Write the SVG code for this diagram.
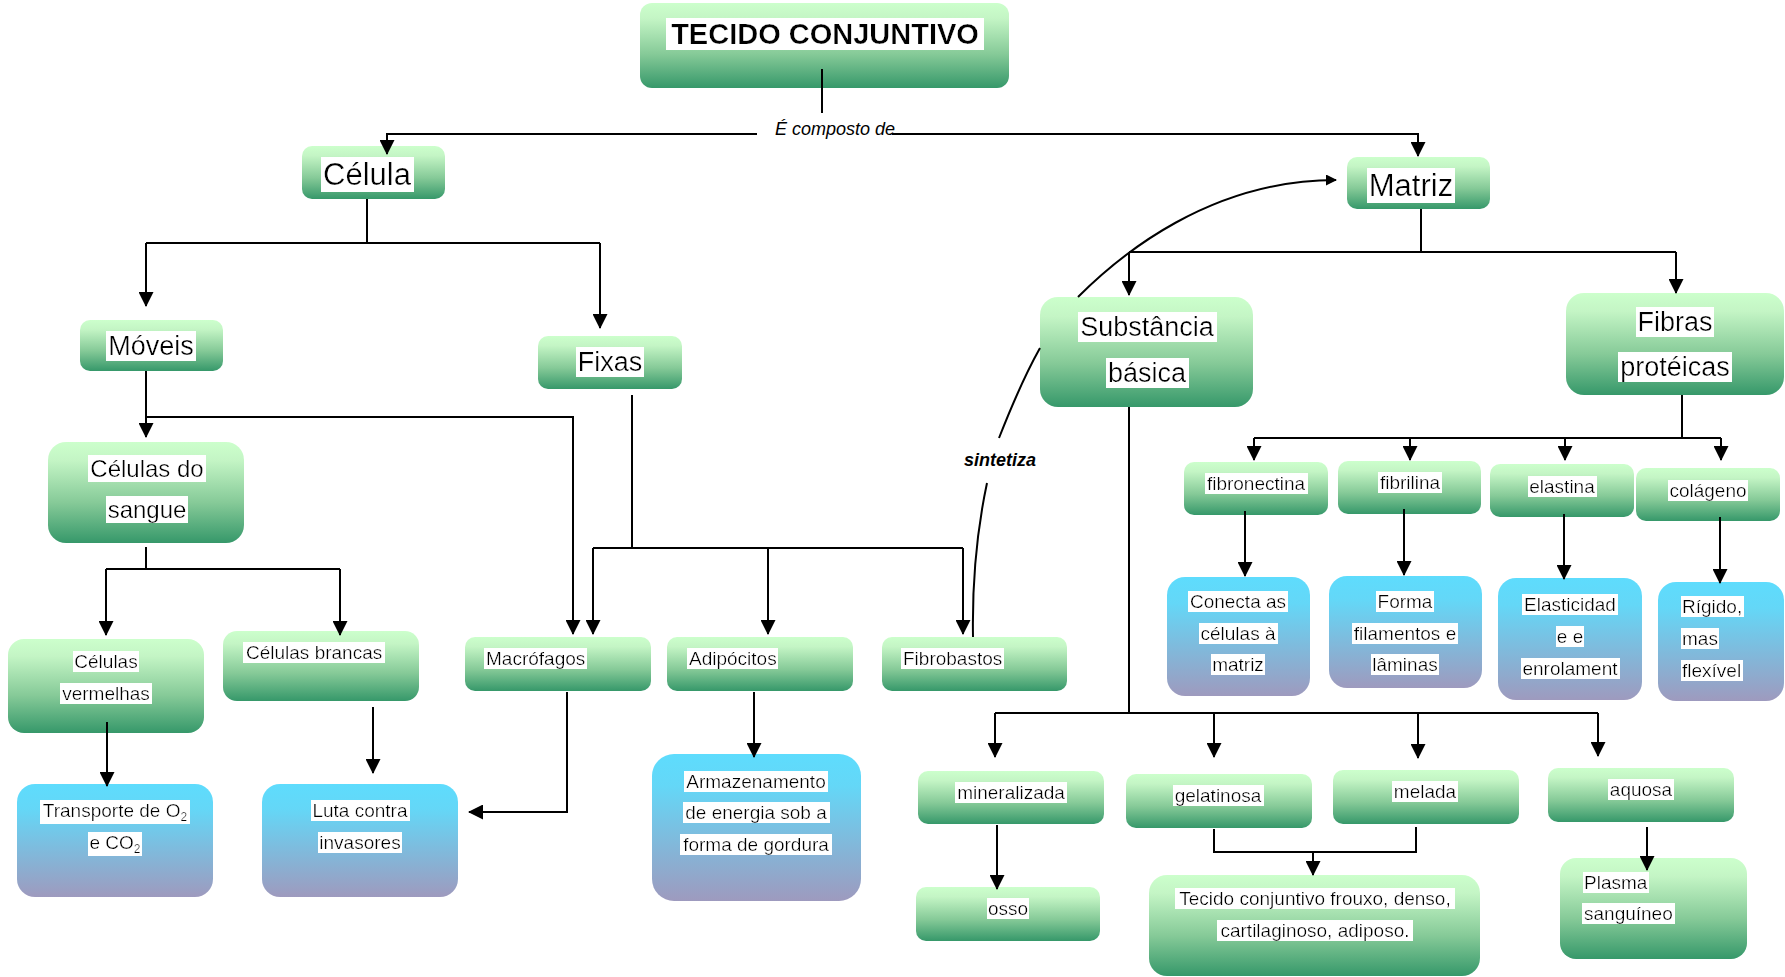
<svg xmlns="http://www.w3.org/2000/svg" width="1785" height="977" viewBox="0 0 1785 977">
  <defs>
    <linearGradient id="gGreen" x1="0" y1="0" x2="0" y2="1">
      <stop offset="0" stop-color="#CCFFCC"/>
      <stop offset="0.18" stop-color="#C4F5C5"/>
      <stop offset="0.6" stop-color="#86CA98"/>
      <stop offset="1" stop-color="#36986A"/>
    </linearGradient>
    <linearGradient id="gBlue" x1="0" y1="0" x2="0" y2="1">
      <stop offset="0" stop-color="#5EDCFD"/>
      <stop offset="0.22" stop-color="#64D7F7"/>
      <stop offset="1" stop-color="#9E9ABE"/>
    </linearGradient>
    <!-- white highlight behind each line of text -->
    <filter id="hl" x="-0.015" y="0" width="1.03" height="1">
      <feFlood flood-color="#ffffff" result="bg"/>
      <feMerge>
        <feMergeNode in="bg"/>
        <feMergeNode in="SourceGraphic"/>
      </feMerge>
    </filter>
    <marker id="ah" viewBox="0 0 15 15" refX="14" refY="7.5" markerWidth="15" markerHeight="15" markerUnits="userSpaceOnUse" orient="auto">
      <path d="M0,0 L15,7.5 L0,15 z" fill="#000"/>
    </marker>
    <marker id="ahs" viewBox="0 0 11 11" refX="10" refY="5.5" markerWidth="11" markerHeight="11" markerUnits="userSpaceOnUse" orient="auto">
      <path d="M0,0 L11,5.5 L0,11 z" fill="#000"/>
    </marker>
  </defs>
  <style>
    .g { fill: url(#gGreen); }
    .b { fill: url(#gBlue); }
    text { font-family: "Liberation Sans", Arial, sans-serif; fill: #000; filter: url(#hl); }
    .m { text-anchor: middle; }
    .s19 { font-size: 19px; }
    .s24 { font-size: 24px; }
    .s27 { font-size: 27px; }
    .s31 { font-size: 31px; }
    .title { font-size: 29px; font-weight: bold; text-anchor: middle; }
    .c path { fill: none; stroke: #000; stroke-width: 2; }
    .a { marker-end: url(#ah); }
    .lbl { filter: none; font-size: 18px; font-style: italic; text-anchor: middle; }
  </style>

  <rect width="1785" height="977" fill="#ffffff"/>

  <!-- nodes -->
  <g id="n-tecido"><rect class="g" x="640" y="3" width="369" height="85" rx="12"/><text class="title" x="825" y="44">TECIDO CONJUNTIVO</text></g>
  <g id="n-celula"><rect class="g" x="302" y="146" width="143" height="53" rx="10"/><text class="m s31" x="367" y="185">Célula</text></g>
  <g id="n-matriz"><rect class="g" x="1347" y="157" width="143" height="52" rx="10"/><text class="m s31" x="1411" y="196">Matriz</text></g>
  <g id="n-moveis"><rect class="g" x="80" y="320" width="143" height="51" rx="10"/><text class="m s27" x="151" y="355">Móveis</text></g>
  <g id="n-fixas"><rect class="g" x="538" y="336" width="144" height="53" rx="10"/><text class="m s27" x="610" y="371">Fixas</text></g>
  <g id="n-sangue"><rect class="g" x="48" y="442" width="196" height="101" rx="18"/><text class="m s24" x="147" y="477">Células do</text><text class="m s24" x="147" y="518">sangue</text></g>
  <g id="n-substancia"><rect class="g" x="1040" y="297" width="213" height="110" rx="18"/><text class="m s27" x="1147" y="336">Substância</text><text class="m s27" x="1147" y="382">básica</text></g>
  <g id="n-fibras"><rect class="g" x="1566" y="293" width="218" height="102" rx="18"/><text class="m s27" x="1675" y="331">Fibras</text><text class="m s27" x="1675" y="376">protéicas</text></g>
  <g id="n-vermelhas"><rect class="g" x="8" y="639" width="196" height="94" rx="16"/><text class="m s19" x="106" y="668">Células</text><text class="m s19" x="106" y="700">vermelhas</text></g>
  <g id="n-brancas"><rect class="g" x="223" y="631" width="196" height="70" rx="14"/><text class="s19" x="246" y="659">Células brancas</text></g>
  <g id="n-transporte"><rect class="b" x="17" y="784" width="196" height="113" rx="18"/><text class="m s19" x="115" y="817">Transporte de O<tspan font-size="12" dy="4">2</tspan></text><text class="m s19" x="115" y="849">e CO<tspan font-size="12" dy="4">2</tspan></text></g>
  <g id="n-luta"><rect class="b" x="262" y="784" width="196" height="113" rx="18"/><text class="m s19" x="360" y="817">Luta contra</text><text class="m s19" x="360" y="849">invasores</text></g>
  <g id="n-macrofagos"><rect class="g" x="465" y="637" width="186" height="54" rx="10"/><text class="s19" x="486" y="665">Macrófagos</text></g>
  <g id="n-adipocitos"><rect class="g" x="667" y="637" width="186" height="54" rx="10"/><text class="s19" x="689" y="665">Adipócitos</text></g>
  <g id="n-fibrobastos"><rect class="g" x="882" y="637" width="185" height="54" rx="10"/><text class="s19" x="903" y="665">Fibrobastos</text></g>
  <g id="n-armazenamento"><rect class="b" x="652" y="754" width="209" height="147" rx="22"/><text class="m s19" x="756" y="788">Armazenamento</text><text class="m s19" x="756" y="819">de energia sob a</text><text class="m s19" x="756" y="851">forma de gordura</text></g>
  <g id="n-fibronectina"><rect class="g" x="1184" y="462" width="144" height="53" rx="10"/><text class="m s19" x="1256" y="490">fibronectina</text></g>
  <g id="n-fibrilina"><rect class="g" x="1338" y="461" width="143" height="53" rx="10"/><text class="m s19" x="1410" y="489">fibrilina</text></g>
  <g id="n-elastina"><rect class="g" x="1490" y="464" width="144" height="53" rx="10"/><text class="m s19" x="1562" y="493">elastina</text></g>
  <g id="n-colageno"><rect class="g" x="1636" y="468" width="144" height="53" rx="10"/><text class="m s19" x="1708" y="497">colágeno</text></g>
  <g id="n-conecta"><rect class="b" x="1167" y="577" width="143" height="119" rx="18"/><text class="m s19" x="1238" y="608">Conecta as</text><text class="m s19" x="1238" y="640">células à</text><text class="m s19" x="1238" y="671">matriz</text></g>
  <g id="n-forma"><rect class="b" x="1329" y="576" width="153" height="112" rx="18"/><text class="m s19" x="1405" y="608">Forma</text><text class="m s19" x="1405" y="640">filamentos e</text><text class="m s19" x="1405" y="671">lâminas</text></g>
  <g id="n-elasticidad"><rect class="b" x="1498" y="578" width="144" height="122" rx="18"/><text class="m s19" x="1570" y="611">Elasticidad</text><text class="m s19" x="1570" y="643">e e</text><text class="m s19" x="1570" y="675">enrolament</text></g>
  <g id="n-rigido"><rect class="b" x="1658" y="582" width="126" height="119" rx="18"/><text class="s19" x="1682" y="613">Rígido,</text><text class="s19" x="1682" y="645">mas</text><text class="s19" x="1682" y="677">flexível</text></g>
  <g id="n-mineralizada"><rect class="g" x="918" y="771" width="186" height="53" rx="10"/><text class="m s19" x="1011" y="799">mineralizada</text></g>
  <g id="n-gelatinosa"><rect class="g" x="1126" y="774" width="186" height="54" rx="10"/><text class="m s19" x="1218" y="802">gelatinosa</text></g>
  <g id="n-melada"><rect class="g" x="1333" y="770" width="186" height="54" rx="10"/><text class="m s19" x="1425" y="798">melada</text></g>
  <g id="n-aquosa"><rect class="g" x="1548" y="768" width="186" height="54" rx="10"/><text class="m s19" x="1641" y="796">aquosa</text></g>
  <g id="n-osso"><rect class="g" x="916" y="887" width="184" height="54" rx="10"/><text class="m s19" x="1008" y="915">osso</text></g>
  <g id="n-frouxo"><rect class="g" x="1149" y="875" width="331" height="101" rx="18"/><text class="m s19" x="1315" y="905">Tecido conjuntivo frouxo, denso,</text><text class="m s19" x="1315" y="937">cartilaginoso, adiposo.</text></g>
  <g id="n-plasma"><rect class="g" x="1560" y="858" width="187" height="101" rx="16"/><text class="s19" x="1584" y="889">Plasma</text><text class="s19" x="1584" y="920">sanguíneo</text></g>

  <!-- connectors -->
  <g id="connectors" class="c">
    <path d="M822 69 V113"/>
    <path class="a" d="M757 134 H387 V154"/>
    <path class="a" d="M892 134 H1418 V156"/>
    <text class="lbl" x="835" y="135">É composto de</text>

    <path d="M367 199 V243 M146 243 H600"/>
    <path class="a" d="M146 243 V306"/>
    <path class="a" d="M600 243 V328"/>

    <path class="a" d="M146 371 V437"/>
    <path class="a" d="M146 417 H573 V634"/>

    <path d="M632 395 V548 M593 548 H963"/>
    <path class="a" d="M593 548 V634"/>
    <path class="a" d="M768 548 V634"/>
    <path class="a" d="M963 548 V634"/>

    <path d="M146 547 V569 M106 569 H340"/>
    <path class="a" d="M106 569 V635"/>
    <path class="a" d="M340 569 V635"/>
    <path class="a" d="M107 722 V786"/>
    <path class="a" d="M373 707 V773"/>
    <path class="a" d="M567 692 V812 H469"/>
    <path class="a" d="M754 692 V757"/>

    <path d="M1421 209 V252 M1129 252 H1676"/>
    <path class="a" d="M1129 252 V295"/>
    <path class="a" d="M1676 252 V293"/>

    <path d="M1129 407 V713 M995 713 H1598"/>
    <path class="a" d="M995 713 V757"/>
    <path class="a" d="M1214 713 V757"/>
    <path class="a" d="M1418 713 V758"/>
    <path class="a" d="M1598 713 V756"/>

    <path d="M1682 395 V438 M1254 438 H1721"/>
    <path class="a" d="M1254 438 V460"/>
    <path class="a" d="M1410 438 V460"/>
    <path class="a" d="M1565 438 V460"/>
    <path class="a" d="M1721 438 V460"/>

    <path class="a" d="M1245 511 V576"/>
    <path class="a" d="M1404 509 V575"/>
    <path class="a" d="M1564 514 V579"/>
    <path class="a" d="M1720 517 V583"/>

    <path class="a" d="M997 825 V889"/>
    <path d="M1214 829 V852 H1416 V827"/>
    <path class="a" d="M1313 852 V875"/>
    <path class="a" d="M1647 827 V870"/>

    <!-- Fibrobastos synthesise the matrix -->
    <path d="M973 637 C972 580 977 530 987 483 M999 438 C1010 410 1022 380 1040 348 M1078 297 C1120 255 1210 180 1336 180" marker-end="url(#ahs)"/>
    <text class="lbl" x="1000" y="466" font-weight="bold">sintetiza</text>
  </g>
</svg>
